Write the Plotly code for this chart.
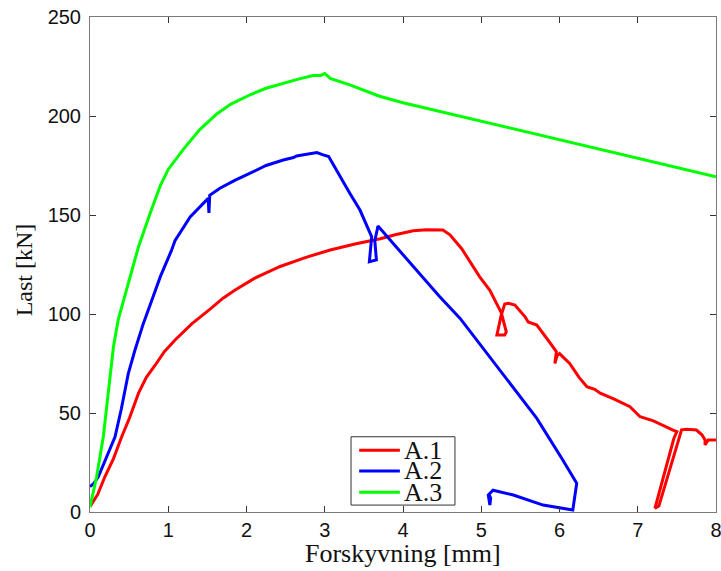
import plotly.graph_objects as go

# Series A.1 (red)
a1_x = [0, 0.1, 0.19, 0.3, 0.405, 0.5, 0.62, 0.72, 0.83, 0.95, 1.09, 1.3, 1.55, 1.7, 1.85,
        2.1, 2.43, 2.75, 3.07, 3.4, 3.71, 3.9, 4.13, 4.3, 4.51, 4.6, 4.75, 4.98, 5.11, 5.26,
        5.2, 5.3, 5.32, 5.26, 5.3, 5.35, 5.43, 5.56, 5.6, 5.71, 5.85, 5.96, 5.94, 5.97, 6.0,
        6.13, 6.25, 6.35, 6.45, 6.52, 6.7, 6.9, 7.03, 7.2, 7.45, 7.5, 7.46, 7.22, 7.27, 7.54,
        7.56, 7.63, 7.75, 7.82, 7.86, 7.86, 7.9, 8.0]
a1_y = [2.7, 9, 17.8, 27, 38, 47, 60, 68, 74, 81, 87, 95, 103, 108, 112,
        118, 124, 128.5, 132.3, 135.5, 138, 140, 142, 142.5, 142.4, 140, 133, 118.8, 112, 100.3,
        89.4, 89.4, 91, 100, 105, 105.4, 104.5, 98.6, 96, 94.4, 87, 81, 75, 79, 80,
        75, 68, 63.3, 62, 60, 57, 53.2, 48.1, 46, 41.4, 40.6, 37, 1.9, 3, 39,
        41.5, 41.8, 41.4, 39, 36.4, 33.8, 36.4, 36.4]

# Series A.2 (blue)
a2_x = [0, 0.05, 0.106, 0.2, 0.32, 0.4, 0.49, 0.575, 0.68, 0.79, 0.9, 1.04, 1.086, 1.28,
        1.45, 1.51, 1.52, 1.53, 1.66, 1.85, 2.04, 2.25, 2.47, 2.6, 2.64, 2.9, 2.97, 3.05,
        3.32, 3.45, 3.6, 3.57, 3.66, 3.64, 3.68, 4.47, 4.73, 5.71, 6.03, 6.22, 6.17, 5.79,
        5.41, 5.15, 5.09, 5.11, 5.12, 5.10]
a2_y = [12.8, 14.5, 17.8, 27, 38, 52, 70, 81.8, 95, 107, 119, 132, 137, 149,
        156, 158.4, 151, 160, 163.5, 167.5, 171, 175, 177.8, 179, 179.8, 181.5, 180.5, 179.5,
        161, 152.5, 139, 126.4, 127.3, 137, 144.4, 108.7, 97.8, 47.3, 27, 14.5, 1, 3.5,
        8.6, 11, 8.6, 3.5, 7, 9]

# Series A.3 (green)
a3_x = [0, 0.085, 0.17, 0.23, 0.30, 0.36, 0.49, 0.62, 0.77, 0.9, 1.0, 1.19, 1.4, 1.62, 1.8,
        2.04, 2.25, 2.47, 2.65, 2.85, 2.95, 3.0, 3.07, 3.32, 3.7, 4.0, 8.0]
a3_y = [2.5, 17.8, 38, 60, 83.5, 97, 116, 134, 151, 165, 173, 183, 193, 201, 206,
        210.6, 214, 216.5, 218.5, 220.4, 220.5, 221.5, 219, 215.7, 210, 206.7, 169.3]

series_names = ["A.1", "A.2", "A.3"]
series_colors = ["#ff0000", "#0000ff", "#00ff00"]
x_ticks = [0, 1, 2, 3, 4, 5, 6, 7, 8]
y_ticks = [0, 50, 100, 150, 200, 250]

fig = go.Figure()
for xs, ys, name, col in zip([a1_x, a2_x, a3_x], [a1_y, a2_y, a3_y], series_names, series_colors):
    fig.add_trace(go.Scatter(x=xs, y=ys, mode="lines", name=name,
                             line=dict(color=col, width=3), showlegend=False))

axis_common = dict(showgrid=False, zeroline=False, showline=True, linecolor="#7a7a7a",
                   linewidth=1, mirror="ticks", ticks="inside", ticklen=6, tickcolor="#333",
                   automargin=False, ticklabeloverflow="allow",
                   tickfont=dict(family="Liberation Sans, Arial", size=20, color="#111"))
fig.update_xaxes(range=[0, 8], tickvals=x_ticks, **axis_common)
fig.update_yaxes(range=[0, 250], tickvals=y_ticks, ticklabelstandoff=4, **axis_common)

serif = "Liberation Serif, Times New Roman, serif"
annotations = [
    dict(text="Forskyvning [mm]", xref="paper", yref="paper", x=0.5, y=-0.084,
         xanchor="center", yanchor="middle", showarrow=False,
         font=dict(family=serif, size=26, color="#111")),
    dict(text="Last [kN]", xref="paper", yref="paper", x=-0.104, y=0.49,
         xanchor="center", yanchor="middle", textangle=-90, showarrow=False,
         font=dict(family=serif, size=24, color="#111")),
]
shapes = [dict(type="rect", xref="paper", yref="paper", x0=0.417, x1=0.583, y0=0.014, y1=0.152,
               line=dict(color="#333", width=1), fillcolor="white", layer="above")]
leg_y = [0.125, 0.083, 0.040]
for name, col, ly in zip(series_names, series_colors, leg_y):
    shapes.append(dict(type="line", xref="paper", yref="paper", x0=0.430, x1=0.495, y0=ly, y1=ly,
                       line=dict(color=col, width=3), layer="above"))
    annotations.append(dict(text=name, xref="paper", yref="paper", x=0.499, y=ly,
                            xanchor="left", yanchor="middle", showarrow=False,
                            font=dict(family=serif, size=26, color="#111")))

fig.update_layout(width=721, height=571, margin=dict(l=90, r=5, t=17, b=59),
                  paper_bgcolor="white", plot_bgcolor="white",
                  annotations=annotations, shapes=shapes)

fig.write_html("out.html", config={"displayModeBar": False},
               post_script="document.body.style.margin='0';document.body.style.overflow='hidden';")
